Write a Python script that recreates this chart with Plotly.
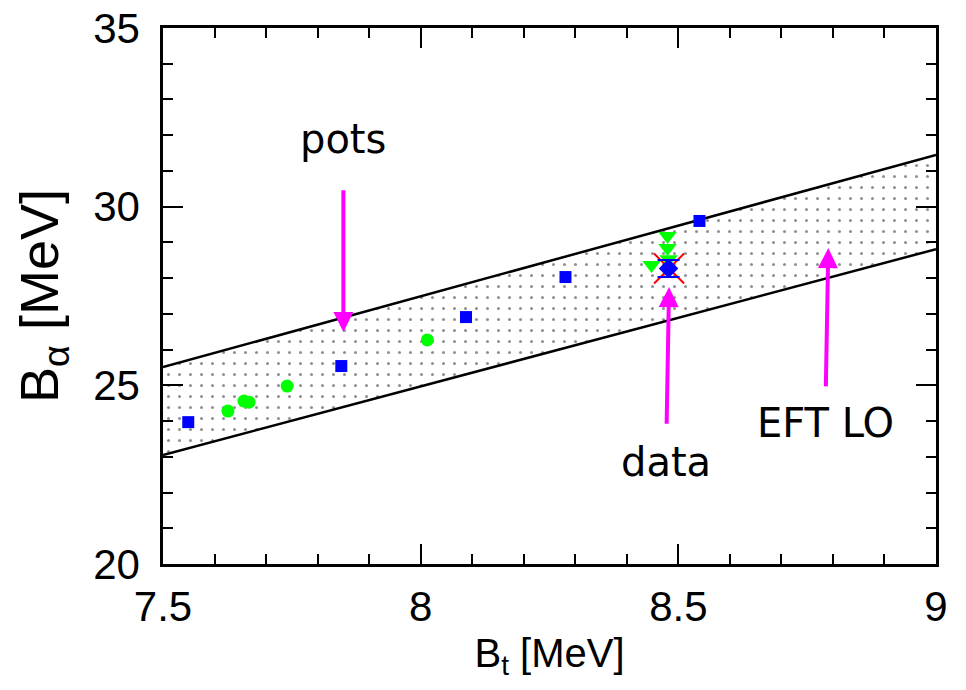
import plotly.graph_objects as go

# Band (EFT LO) edges
band_x = [7.5, 9.0]
band_upper = [25.51, 31.45]
band_lower = [23.05, 28.81]

# Blue squares
sq_x = [7.549, 7.846, 8.088, 8.281, 8.541]
sq_y = [23.97, 25.54, 26.91, 28.03, 29.60]

# Green circles
circ_x = [7.626, 7.657, 7.667, 7.741, 8.013]
circ_y = [24.28, 24.56, 24.53, 24.98, 26.27]

# Green down triangles
tri_x = [8.479, 8.479, 8.481, 8.448]
tri_y = [29.18, 28.84, 28.53, 28.37]

# Red cross
cross_x = [8.482]
cross_y = [28.27]

# Data point (blue diamond with error)
data_x = [8.481]
data_y = [28.27]
data_err = [0.24]

# Arrow annotations: (label, label x, label y, tip x, tip y, gap px)
arrows = [
    ("pots", 7.85, 31.9, 7.85, 26.49, 27),
    ("data", 8.476, 22.85, 8.482, 27.75, 14),
    ("EFT LO", 8.785, 23.95, 8.791, 28.84, 12),
]

fig = go.Figure()

fig.add_trace(go.Scatter(x=band_x, y=band_lower, mode="lines",
                         line=dict(color="black", width=2.5), showlegend=False))
fig.add_trace(go.Scatter(x=band_x, y=band_upper, mode="lines",
                         line=dict(color="black", width=2.5), showlegend=False,
                         fill="tonexty", fillcolor="rgba(0,0,0,0)",
                         fillpattern=dict(shape=".", size=11, solidity=0.06,
                                          fgcolor="#222222", bgcolor="white")))

fig.add_trace(go.Scatter(x=sq_x, y=sq_y, mode="markers",
                         marker=dict(symbol="square", size=12, color="#0000ff"),
                         showlegend=False))
fig.add_trace(go.Scatter(x=circ_x, y=circ_y, mode="markers",
                         marker=dict(symbol="circle", size=13, color="#00ff00"),
                         showlegend=False))
fig.add_trace(go.Scatter(x=tri_x, y=tri_y, mode="markers",
                         marker=dict(symbol="triangle-down", size=16, color="#00ff00"),
                         showlegend=False))
fig.add_trace(go.Scatter(x=cross_x, y=cross_y, mode="markers",
                         marker=dict(symbol="x-thin-open", size=30, color="#ff0000",
                                     line=dict(color="#ff0000", width=2)),
                         showlegend=False))
fig.add_trace(go.Scatter(x=data_x, y=data_y, mode="markers",
                         marker=dict(symbol="diamond", size=15, color="#0000ff"),
                         error_y=dict(type="data", array=data_err, color="#0000ff",
                                      thickness=2, width=11),
                         showlegend=False))

for label, tx, ty, hx, hy, gap in arrows:
    fig.add_annotation(x=hx, y=hy, ax=tx, ay=ty, xref="x", yref="y",
                       axref="x", ayref="y", text=label, showarrow=True,
                       arrowhead=2, arrowsize=1, arrowwidth=4,
                       arrowcolor="#ff00ff", startstandoff=gap,
                       font=dict(family="DejaVu Sans", size=40, color="black"))

axis_common = dict(
    showgrid=False, zeroline=False, showline=True, linecolor="black",
    linewidth=2.5, mirror="ticks", ticks="inside", ticklen=20, tickwidth=2,
    tickcolor="black", automargin=False,
    tickfont=dict(family="Liberation Sans", size=42, color="black"),
)

fig.update_xaxes(range=[7.5, 9.0], tickvals=[7.5, 8, 8.5, 9],
                 ticktext=["7.5", "8", "8.5", "9"], ticklabelstandoff=4,
                 minor=dict(dtick=0.1, tick0=7.5, ticks="inside", ticklen=10,
                            tickwidth=2, tickcolor="black"),
                 title=dict(text="B<sub>t</sub> [MeV]",
                            font=dict(family="Liberation Sans", size=40, color="black"),
                            standoff=10),
                 **axis_common)
fig.update_yaxes(range=[20, 35], tickvals=[20, 25, 30, 35], ticklabelstandoff=12,
                 minor=dict(dtick=1, tick0=20, ticks="inside", ticklen=10,
                            tickwidth=2, tickcolor="black"),
                 title=dict(text="B<sub>α</sub> [MeV]",
                            font=dict(family="Liberation Sans", size=54, color="black"),
                            standoff=18),
                 **axis_common)

fig.update_layout(width=966, height=690, plot_bgcolor="white", paper_bgcolor="white",
                  margin=dict(l=163, r=30, t=28, b=126), showlegend=False)

fig.write_html("out.html", config={"displayModeBar": False},
               post_script="document.body.style.margin='0px';")
